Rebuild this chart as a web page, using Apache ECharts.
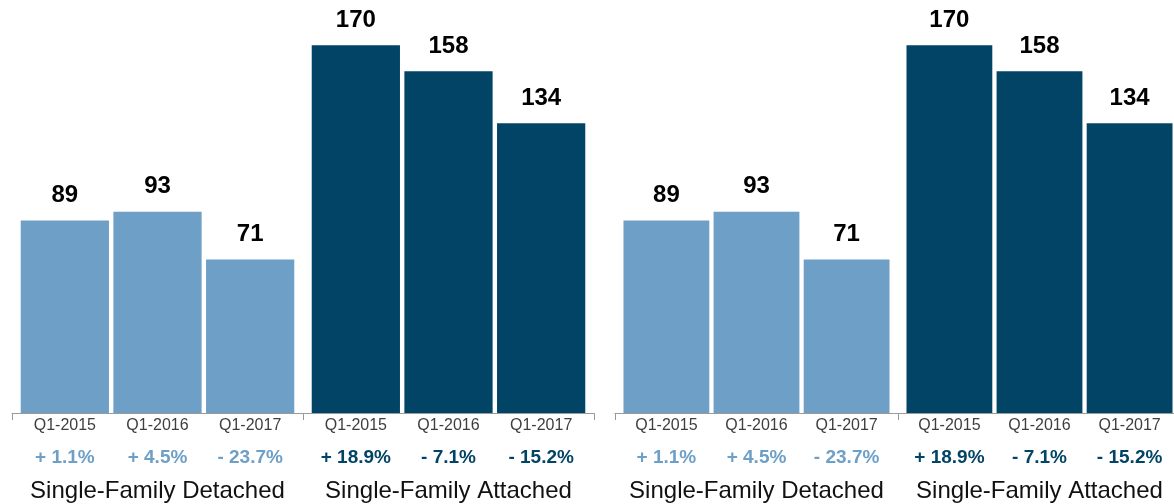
<!DOCTYPE html>
<html>
<head>
<meta charset="utf-8">
<script src="https://cdn.jsdelivr.net/npm/echarts@6/dist/echarts.min.js"></script>
<style>
html,body{margin:0;padding:0;background:#fff;}
#chart{width:1174px;height:504px;}
</style>
</head>
<body>
<div id="chart"></div>
<script>
const categories = ['Single-Family Detached', 'Single-Family Attached'];
const periods = ['Q1-2015', 'Q1-2016', 'Q1-2017'];
const detachedValues = [89, 93, 71];
const attachedValues = [170, 158, 134];
const detachedChanges = ['+ 1.1%', '+ 4.5%', '- 23.7%'];
const attachedChanges = ['+ 18.9%', '- 7.1%', '- 15.2%'];

const LIGHT = '#6d9fc7';
const DARK = '#024466';
const FONT = '"Liberation Sans", Arial, Helvetica, sans-serif';

const grids = [
  { left: 12, width: 582, top: 2, bottom: 91, outerBoundsMode: 'none', containLabel: false },
  { left: 615, width: 566, top: 2, bottom: 91, outerBoundsMode: 'none', containLabel: false }
];

const xAxes = grids.map((g, gi) => ({
  type: 'category',
  gridIndex: gi,
  data: categories,
  axisLine: { show: true, lineStyle: { color: '#9a9a9a', width: 1 } },
  axisTick: { show: true, length: 7, lineStyle: { color: '#9a9a9a' } },
  axisLabel: {
    margin: 66, fontSize: 24, color: '#111', fontFamily: FONT,
    interval: 0, showMinLabel: true, showMaxLabel: true, hideOverlap: false
  }
}));

const yAxes = grids.map((g, gi) => ({
  type: 'value', gridIndex: gi, min: 0, max: 190, show: false,
  splitLine: { show: false }
}));

const series = [];
grids.forEach((g, gi) => {
  periods.forEach((per, i) => {
    const stack = 'g' + gi + 'p' + i;
    series.push({
      type: 'bar', xAxisIndex: gi, yAxisIndex: gi, stack: stack,
      barCategoryGap: '6%', barGap: '5%',
      data: [0, 0],
      itemStyle: { color: 'rgba(0,0,0,0)' },
      silent: true,
      label: {
        show: true, position: 'bottom', distance: 3,
        fontFamily: FONT,
        formatter: function (p) {
          const ch = p.dataIndex === 0 ? detachedChanges[i] : attachedChanges[i];
          const key = p.dataIndex === 0 ? 'pl' : 'pd';
          return '{q|' + per + '}\n{' + key + '|' + ch + '}';
        },
        rich: {
          q: { fontSize: 16, color: '#3e3e3e', lineHeight: 20, fontFamily: FONT },
          pl: { fontSize: 19, fontWeight: 'bold', color: LIGHT, lineHeight: 44, fontFamily: FONT },
          pd: { fontSize: 19, fontWeight: 'bold', color: DARK, lineHeight: 44, fontFamily: FONT }
        }
      }
    });
    series.push({
      type: 'bar', name: per, xAxisIndex: gi, yAxisIndex: gi, stack: stack,
      barCategoryGap: '6%', barGap: '5%',
      data: [
        { value: detachedValues[i], itemStyle: { color: LIGHT } },
        { value: attachedValues[i], itemStyle: { color: DARK } }
      ],
      label: {
        show: true, position: 'top', distance: 13,
        fontSize: 24, fontWeight: 'bold', color: '#000', fontFamily: FONT
      }
    });
  });
});

const chart = echarts.init(document.getElementById('chart'), null, { renderer: 'canvas' });
chart.setOption({
  animation: false,
  backgroundColor: '#fff',
  grid: grids,
  xAxis: xAxes,
  yAxis: yAxes,
  series: series
});
</script>
</body>
</html>
